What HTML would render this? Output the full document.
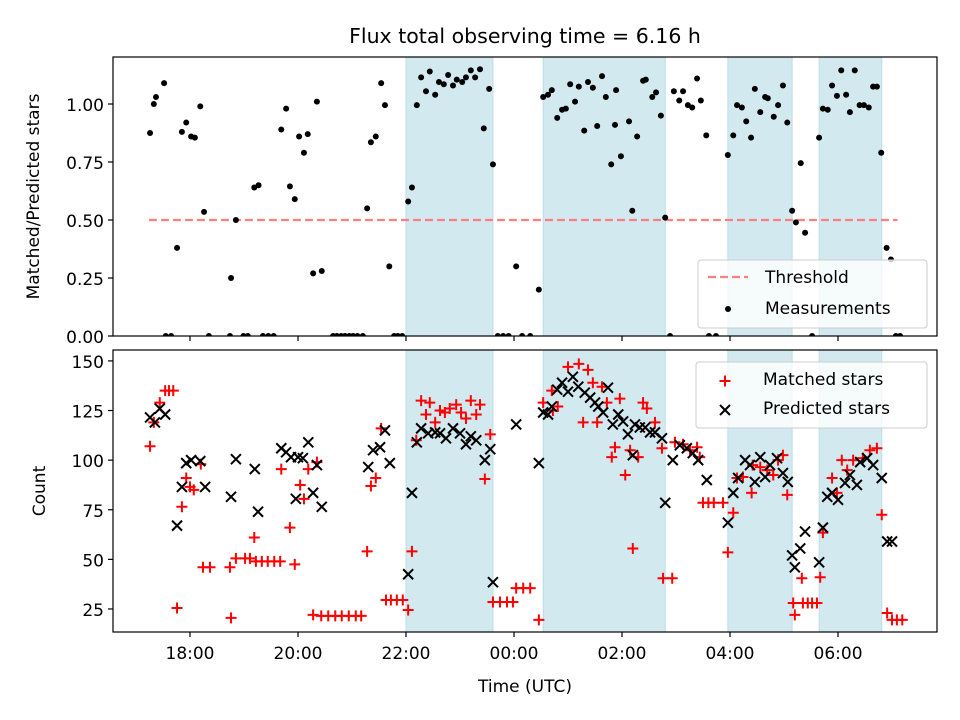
<!DOCTYPE html>
<html><head><meta charset="utf-8">
<style>
body{margin:0;background:#fff}
svg{display:block;font-family:"DejaVu Sans","Liberation Sans",sans-serif}
</style></head>
<body>
<svg id="fig" width="960" height="720" viewBox="0 0 960 720" xmlns="http://www.w3.org/2000/svg">
<rect width="960" height="720" fill="#fff"/>
<text x="525" y="43" font-size="20.5" text-anchor="middle" fill="#000">Flux total observing time = 6.16 h</text>
<g id="topPanel"></g>
<g id="botPanel"></g>
</svg>
<script>
// ---- data (time in hours; after midnight > 24) ----
const spanStarts = [22.0, 24.54, 27.96, 29.65];
const spanEnds = [23.61, 26.80, 29.15, 30.81];
const threshold = 0.5;
const thresholdRange = [17.24, 31.1];
const ratioTimes = [17.26,17.33,17.37,17.52,17.55,17.65,17.76,17.85,17.93,18.02,18.09,18.19,18.26,18.35,18.76,18.74,18.85,18.99,19.07,19.19,19.27,19.35,19.45,19.55,19.69,19.78,19.85,19.94,20.02,20.11,20.18,20.28,20.35,20.44,20.65,20.72,20.8,20.87,20.95,21.02,21.1,21.2,21.28,21.35,21.44,21.54,21.61,21.69,21.78,21.85,21.93,22.04,22.11,22.2,22.28,22.37,22.44,22.54,22.61,22.7,22.78,22.87,22.94,23.04,23.11,23.2,23.28,23.37,23.44,23.54,23.61,23.7,23.8,23.9,24.04,24.15,24.3,24.46,24.54,24.63,24.7,24.8,24.89,24.96,25.04,25.13,25.2,25.3,25.37,25.46,25.54,25.63,25.7,25.8,25.87,25.89,25.98,26.13,26.19,26.28,26.39,26.44,26.56,26.63,26.72,26.8,26.89,26.96,27.06,27.13,27.22,27.3,27.39,27.46,27.56,27.61,27.74,27.96,28.06,28.13,28.22,28.3,28.39,28.46,28.56,28.65,28.7,28.81,28.89,28.98,29.06,29.15,29.22,29.31,29.39,29.52,29.65,29.72,29.81,29.89,29.98,30.06,30.15,30.22,30.31,30.4,30.48,30.57,30.65,30.72,30.8,30.9,30.98,31.07,31.15];
const ratioValues = [0.875,1.0,1.03,1.09,0,0,0.38,0.88,0.92,0.86,0.855,0.99,0.535,0,0.25,0,0.5,0,0,0.64,0.65,0,0,0,0.89,0.98,0.645,0.59,0.86,0.79,0.87,0.27,1.01,0.28,0,0,0,0,0,0,0,0,0.55,0.835,0.86,1.09,0.995,0.3,0,0,0,0.58,0.64,0.995,1.115,1.055,1.14,1.04,1.095,1.085,1.125,1.08,1.105,1.095,1.115,1.145,1.115,1.15,0.895,1.065,0.74,0,0,0,0.3,0,0,0.2,1.03,1.04,1.06,0.94,0.975,0.98,1.085,1.01,1.075,0.885,1.095,1.07,0.905,1.12,1.03,0.74,0.91,1.06,0.775,0.925,0.54,0.86,1.1,1.105,1.03,1.05,0.95,0.51,0,1.055,1.015,1.055,0.995,0.985,1.11,1.015,0.865,0,0,0.78,0.865,0.995,0.985,0.925,0.855,1.065,0.965,1.03,1.025,0.945,0.995,1.08,0.92,0.54,0.49,0.745,0.445,0,0.855,0.98,0.975,1.08,1.035,1.145,1.04,0.965,1.145,0.995,0.995,0.985,1.075,1.075,0.79,0.38,0.33,0,0];
const matchedTimes = [17.26,17.33,17.44,17.54,17.61,17.69,17.76,17.85,17.93,18.0,18.07,18.2,18.24,18.37,18.76,18.74,18.85,19.02,19.11,19.19,19.22,19.33,19.44,19.56,19.67,19.69,19.85,19.94,20.04,20.11,20.19,20.35,20.28,20.43,20.56,20.69,20.81,20.94,21.07,21.17,21.28,21.35,21.44,21.54,21.63,21.72,21.83,21.94,22.04,22.11,22.19,22.28,22.44,22.37,22.54,22.63,22.72,22.81,22.93,23.02,23.11,23.2,23.3,23.37,23.56,23.46,23.61,23.74,23.87,23.98,24.04,24.17,24.3,24.46,24.54,24.7,24.72,24.81,25.0,25.2,25.37,25.28,25.54,25.46,25.63,25.72,25.96,25.81,25.87,26.06,26.2,26.15,26.3,26.39,26.46,26.61,26.74,26.76,26.93,26.98,27.13,27.26,27.39,27.44,27.5,27.6,27.7,27.87,27.96,28.06,28.13,28.24,28.4,28.42,28.56,28.69,28.8,28.89,28.98,29.06,29.17,29.2,29.33,29.35,29.44,29.52,29.61,29.67,29.72,29.89,29.98,30.07,30.17,30.28,30.46,30.59,30.72,30.81,30.91,31.0,31.09,31.19];
const matchedValues = [107,119,129,135,135,135,25.5,76.5,91,86.5,85,98,46,46,20.5,46,50.5,50.5,50.5,61,49,49,49,49,49,95.5,66,47.5,87.5,80.5,95.5,99,22,21.5,21.5,21.5,21.5,21.5,21.5,21.5,54,87,91,116,29.5,29.5,29.5,29.5,24.5,54,110,130,129,123,119,125,124,126,128,124,121,130,123,128,113,90.5,28.5,28.5,28.5,28.5,35.5,35.5,35.5,19.5,129,135,125,127,147,148.5,145.5,119,119,139,137,129,131,101.5,106.5,92.5,55.5,105,101.5,129,126,119,106,40.5,40.5,109,108,105,106.5,101.5,78.5,78.5,78.5,78.5,53.5,73.5,91,91.5,83.5,97.5,96.5,95,92.5,100,102.5,82.5,28,22,40.5,28,28,28,28,41,63.5,91,83.5,100,95,100,101,105,106,72.5,23,19.5,19.5,19.5];
const predictedTimes = [17.26,17.35,17.44,17.54,17.76,17.85,17.93,18.02,18.19,18.28,18.76,18.85,19.2,19.26,19.69,19.78,19.87,20.0,20.09,20.19,20.28,19.96,20.35,20.44,21.3,21.39,21.52,21.61,21.7,22.11,22.04,22.2,22.28,22.41,22.54,22.63,22.74,22.87,23.0,23.11,23.2,23.3,23.46,23.56,23.61,24.04,24.46,24.54,24.63,24.7,24.8,24.89,25.0,25.09,25.19,25.31,25.41,25.5,25.56,25.65,25.74,25.83,25.93,26.02,26.11,26.24,26.33,26.43,26.52,26.61,26.74,26.2,26.8,26.94,27.07,27.2,27.31,27.41,27.57,27.96,28.06,28.15,28.28,28.37,28.46,28.56,28.65,28.74,28.87,28.98,29.07,29.15,29.2,29.3,29.39,29.65,29.72,29.8,29.89,30.0,30.13,30.22,30.35,30.41,30.54,30.65,30.81,30.91,31.0];
const predictedValues = [121.5,119,126,123,67,86.5,98.5,100,99.5,86.5,81.5,100.5,95.5,74,106,104,101.5,101.5,101,109,83.5,80.5,97.5,76.5,96.5,105,106.5,115,98.5,83.5,42.5,109,116,113.5,114,113.5,111,116,113.5,108,112,110,100,105.5,38.5,118,98.5,124,123,127,135.5,139,134.5,142,137,134,131.5,129,127,124,136.5,118,123,119.5,113,118,116.5,116.5,114,114,111,102.5,78.5,100,107.5,106,103.5,100,90,68.5,83.5,91,100,97.5,89,101.5,91.5,97.5,101,93.5,89,52,46,55.5,64,48.5,66,81.5,83.5,80,88.5,92.5,87.5,99,101,97.5,91,59,59];
const xTickHours = [18,20,22,24,26,28,30];
const xTickLabels = ["18:00","20:00","22:00","00:00","02:00","04:00","06:00"];
const topTicks = [0,0.25,0.5,0.75,1.0];
const topTickLabels = ["0.00","0.25","0.50","0.75","1.00"];
const botTicks = [25,50,75,100,125,150];
const botTickLabels = ["25","50","75","100","125","150"];

const NS="http://www.w3.org/2000/svg";
const L=113,R=937;
const T1=57,B1=336,T2=350,B2=632;
const xmin=16.574,xmax=31.833;
const x=h=>L+(h-xmin)/(xmax-xmin)*(R-L);
const yTop=v=>B1-(v-0)/(1.2026-0)*(B1-T1);
const yBot=v=>B2-(v-13.4)/(155.5-13.4)*(B2-T2);
function mk(parent,tag,attrs){const e=document.createElementNS(NS,tag);for(const k in attrs)e.setAttribute(k,attrs[k]);parent.appendChild(e);return e;}
const topG=document.getElementById('topPanel'),botG=document.getElementById('botPanel');

function panel(g,T,B,yf,ticks,labels,showX,prefix){
  const cp=mk(g,'clipPath',{id:prefix+'clip'});mk(cp,'rect',{x:L,y:T,width:R-L,height:B-T});
  for(let i=0;i<spanStarts.length;i++){
    const r=mk(g,'rect',{x:x(spanStarts[i]),y:T,width:x(spanEnds[i])-x(spanStarts[i]),height:B-T,fill:'#d3e9f0',stroke:'#bcdde8','stroke-width':1});
    
    
  }
  for(let i=0;i<ticks.length;i++){
    const yy=yf(ticks[i]);
    const tl=mk(g,'line',{x1:L-5,x2:L,y1:yy,y2:yy,stroke:'#000','stroke-width':1.2});
    
    
    const t=mk(g,'text',{x:L-9,y:yy+7,'font-size':17,'text-anchor':'end',fill:'#000'});
    t.textContent=labels[i];
    
    
  }
  for(let i=0;i<xTickHours.length;i++){
    const xx=x(xTickHours[i]);
    const tl=mk(g,'line',{x1:xx,x2:xx,y1:B,y2:B+5,stroke:'#000','stroke-width':1.2});
    
    
    if(showX){
      const t=mk(g,'text',{x:xx,y:B+27,'font-size':17,'text-anchor':'middle',fill:'#000'});
      t.textContent=xTickLabels[i];
      
      
    }
  }
}
panel(topG,T1,B1,yTop,topTicks,topTickLabels,false,'t');
panel(botG,T2,B2,yBot,botTicks,botTickLabels,true,'b');

const th=mk(topG,'line',{x1:x(thresholdRange[0]),x2:x(thresholdRange[1]),y1:yTop(threshold),y2:yTop(threshold),stroke:'#ff7f7f','stroke-width':2.2,'stroke-dasharray':'8,4'});


const gm=mk(topG,'g',{'clip-path':'url(#tclip)'});
for(let i=0;i<ratioTimes.length;i++){
  const c=mk(gm,'circle',{cx:x(ratioTimes[i]),cy:yTop(ratioValues[i]),r:3,fill:'#000'});
  
  
}
const gb=mk(botG,'g',{'clip-path':'url(#bclip)'});
function plus(g,cx,cy,s,col){return mk(g,'path',{d:`M${cx-s} ${cy}H${cx+s}M${cx} ${cy-s}V${cy+s}`,stroke:col,'stroke-width':2,fill:'none'});}
function cross(g,cx,cy,s,col){return mk(g,'path',{d:`M${cx-s} ${cy-s}L${cx+s} ${cy+s}M${cx-s} ${cy+s}L${cx+s} ${cy-s}`,stroke:col,'stroke-width':2,fill:'none'});}
for(let i=0;i<matchedTimes.length;i++){
  const p=plus(gb,x(matchedTimes[i]),yBot(matchedValues[i]),5.5,'#ff0000');
  
  
}
for(let i=0;i<predictedTimes.length;i++){
  const p=cross(gb,x(predictedTimes[i]),yBot(predictedValues[i]),5,'#000');
  
  
}
[[topG,T1,B1],[botG,T2,B2]].forEach(([g,T,B])=>{
  const f=mk(g,'rect',{x:L,y:T,width:R-L,height:B-T,fill:'none',stroke:'#000','stroke-width':1.2});
  
  
});
let t=mk(topG,'text',{x:0,y:0,'font-size':17,'text-anchor':'middle',transform:`translate(39,${(T1+B1)/2}) rotate(-90)`});
t.textContent='Matched/Predicted stars';


t=mk(botG,'text',{x:0,y:0,'font-size':17,'text-anchor':'middle',transform:`translate(45,${(T2+B2)/2}) rotate(-90)`});
t.textContent='Count';


t=mk(botG,'text',{x:(L+R)/2,y:692,'font-size':17,'text-anchor':'middle'});
t.textContent='Time (UTC)';


let lg=mk(topG,'g',{});


mk(lg,'rect',{x:698,y:260,width:229,height:68,rx:3,fill:'#fff','fill-opacity':0.8,stroke:'#ccc'});
mk(lg,'line',{x1:708,x2:748,y1:277,y2:277,stroke:'#ff7f7f','stroke-width':2.2,'stroke-dasharray':'8,4'});
t=mk(lg,'text',{x:765,y:283,'font-size':17});t.textContent='Threshold';


mk(lg,'circle',{cx:728,cy:309,r:3,fill:'#000'});
t=mk(lg,'text',{x:765,y:314,'font-size':17});t.textContent='Measurements';


lg=mk(botG,'g',{});


mk(lg,'rect',{x:696,y:362,width:231,height:66,rx:3,fill:'#fff','fill-opacity':0.8,stroke:'#ccc'});
plus(lg,725,381,5.5,'#ff0000');
t=mk(lg,'text',{x:763,y:385,'font-size':17});t.textContent='Matched stars';


cross(lg,725,410,5,'#000');
t=mk(lg,'text',{x:763,y:414,'font-size':17});t.textContent='Predicted stars';


</script>
</body></html>
